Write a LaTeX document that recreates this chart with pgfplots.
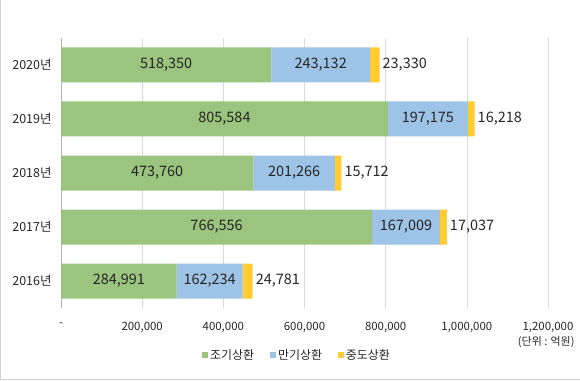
\documentclass[border=0pt]{standalone}
\usepackage{fontspec}
\setmainfont{Noto Sans CJK KR}
\usepackage{pgfplots}
\usepackage{pgfplotstable}
\pgfplotsset{compat=1.18}
\definecolor{cg}{HTML}{9BC47E}
\definecolor{cb}{HTML}{9DC3E6}
\definecolor{cy}{HTML}{FFCC33}
\definecolor{txt}{HTML}{262626}
\pgfplotstableread{
y a b c
0 284991 162234 24781
1 766556 167009 17037
2 473760 201266 15712
3 805584 197175 16218
4 518350 243132 23330
}\data
\begin{document}
\begin{tikzpicture}[x=1bp,y=1bp]
\path[use as bounding box] (0,0) rectangle (580,380);
\draw[black!18] (0.5,380) -- (0.5,0.5) -- (580,0.5);
\begin{axis}[
  at={(61bp,72bp)}, anchor=south west,
  width=487bp, height=270bp, scale only axis,
  xmin=0, xmax=1200000, ymin=-0.5, ymax=4.5,
  xbar stacked, bar width=35bp,
  axis x line*=bottom, axis y line*=left,
  x axis line style={draw=none},
  y axis line style={draw=black!30, line width=0.8bp},
  xmajorgrids, grid style={black!15, line width=0.6bp},
  major tick length=0pt, tick style={draw=none},
  ytick={0,1,2,3,4},
  yticklabels={2016년,2017년,2018년,2019년,2020년},
  xtick={0,200000,400000,600000,800000,1000000,1200000},
  xticklabels={{-},{200,000},{400,000},{600,000},{800,000},{1,000,000},{1,200,000}},
  scaled x ticks=false,
  xticklabel style={font=\fontsize{11.5}{13}\selectfont, text=txt, yshift=-11bp},
  yticklabel style={font=\fontsize{12.5}{14}\selectfont, text=txt, xshift=-6bp},
  legend style={at={(0.4846,-0.174)}, anchor=center, draw=none, fill=none,
    legend columns=3, font=\fontsize{12}{14}\selectfont, text=txt,
    /tikz/every even column/.append style={column sep=14bp}},
  legend image code/.code={\fill[#1] (0bp,-3bp) rectangle (6bp,3bp);},
]
\addplot[fill=cg, draw=none] table[x=a, y=y]{\data};
\addlegendentry{조기상환}
\addplot[fill=cb, draw=none] table[x=b, y=y]{\data};
\addlegendentry{만기상환}
\addplot[fill=cy, draw=none] table[x=c, y=y]{\data};
\addlegendentry{중도상환}
\end{axis}
\begin{axis}[
  at={(61bp,72bp)}, anchor=south west,
  width=487bp, height=270bp, scale only axis,
  xmin=0, xmax=1200000, ymin=-0.5, ymax=4.5,
  hide axis, clip=false,
  /pgf/number format/.cd, fixed, precision=0, 1000 sep={,}, assume math mode=true,
]
\addplot[draw=none, nodes near coords, point meta=explicit,
  nodes near coords style={font=\fontsize{14.5}{16}\selectfont, text=txt, anchor=center}]
  table[x expr=\thisrow{a}/2, y=y, meta=a]{\data};
\addplot[draw=none, nodes near coords, point meta=explicit,
  nodes near coords style={font=\fontsize{14.5}{16}\selectfont, text=txt, anchor=center}]
  table[x expr=\thisrow{a}+\thisrow{b}/2, y=y, meta=b]{\data};
\addplot[draw=none, nodes near coords, point meta=explicit,
  nodes near coords style={font=\fontsize{14.5}{16}\selectfont, text=txt, anchor=west, inner sep=1bp, xshift=2bp}]
  table[x expr=\thisrow{a}+\thisrow{b}+\thisrow{c}, y=y, meta=c]{\data};
\end{axis}
\node[anchor=east, font=\fontsize{11}{13}\selectfont, text=txt] at (578,38) {(단위 : 억원)};
\end{tikzpicture}
\end{document}
